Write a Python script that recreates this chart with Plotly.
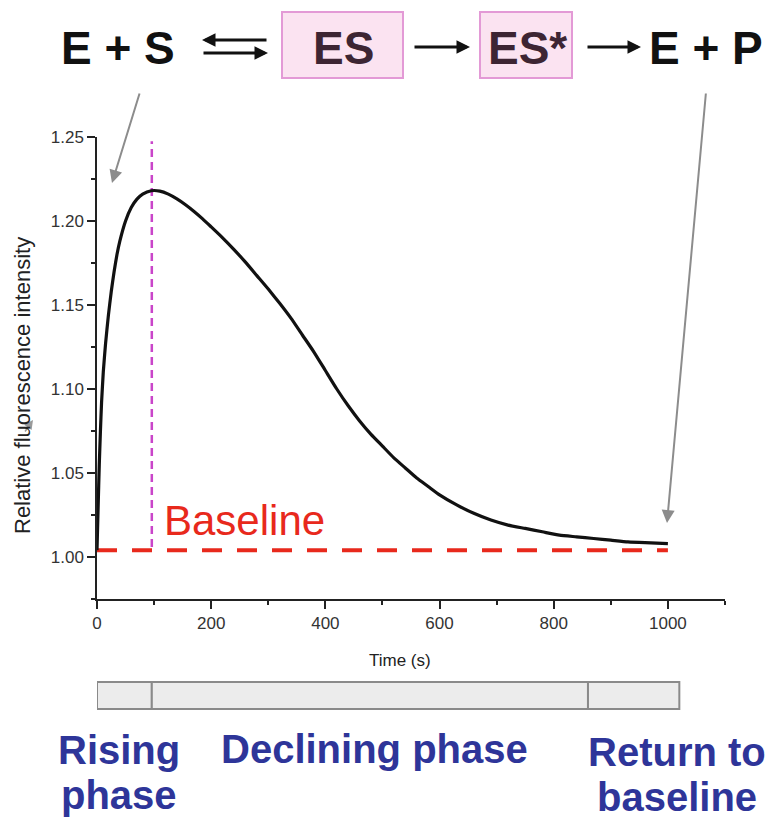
import plotly.graph_objects as go

# ---------------- data ----------------
time_s = [0, 2, 4, 6, 8, 11, 15, 20, 25, 30, 35, 40, 50, 60, 70, 80, 95, 110,
          125, 140, 155, 170, 185, 200, 220, 240, 260, 280, 300, 320, 340, 360,
          380, 400, 420, 440, 460, 480, 500, 520, 540, 560, 580, 600, 630, 660,
          690, 720, 750, 780, 810, 840, 870, 900, 930, 960, 1000]
intensity = [1.004, 1.030, 1.055, 1.075, 1.092, 1.110, 1.127, 1.144, 1.158, 1.170,
             1.180, 1.188, 1.200, 1.208, 1.213, 1.216, 1.218, 1.2178, 1.2160, 1.2132,
             1.2097, 1.2057, 1.2013, 1.1965, 1.1900, 1.1830, 1.1755, 1.1675, 1.1595,
             1.1510, 1.1420, 1.1320, 1.1220, 1.1110, 1.1000, 1.0900, 1.0810, 1.0730,
             1.0660, 1.0590, 1.0530, 1.0470, 1.0420, 1.0370, 1.0310, 1.0260, 1.0220,
             1.0190, 1.0170, 1.0150, 1.0130, 1.0120, 1.0110, 1.0100, 1.0090, 1.0085,
             1.0080]

baseline_t = [0, 1000]
baseline_level = [1.004, 1.004]
peak_time = [96, 96]
peak_line = [1.006, 1.2475]

phase_bounds = [0, 96, 860, 1020]

x_ticks = [0, 200, 400, 600, 800, 1000]
y_ticks = [1.00, 1.05, 1.10, 1.15, 1.20, 1.25]

# ---------------- layout helpers (pixel -> paper) ----------------
L, R, T, B = 97, 725, 137, 599
W, H = 772, 820


def px(x):
    return (x - L) / (R - L)


def py(y):
    return (B - y) / (B - T)


fig = go.Figure()

fig.add_trace(go.Scatter(x=baseline_t, y=baseline_level, mode="lines",
                         line=dict(color="#e8291c", width=4, dash="20px,15px"),
                         hoverinfo="skip", showlegend=False))
fig.add_trace(go.Scatter(x=peak_time, y=peak_line, mode="lines",
                         line=dict(color="#c945c9", width=2.5, dash="8px,5px"),
                         hoverinfo="skip", showlegend=False))
fig.add_trace(go.Scatter(x=time_s, y=intensity, mode="lines",
                         line=dict(color="#111111", width=3.2, shape="spline", smoothing=0.5),
                         showlegend=False))

shapes = []
# phase bar
for i in range(len(phase_bounds) - 1):
    shapes.append(dict(type="rect", xref="x", yref="paper",
                       x0=phase_bounds[i], x1=phase_bounds[i + 1],
                       y0=py(709), y1=py(682),
                       fillcolor="#ececec", line=dict(color="#8a8a8a", width=2)))
# pink boxes
for (x0, x1) in [(282, 403), (480, 572)]:
    shapes.append(dict(type="rect", xref="paper", yref="paper",
                       x0=px(x0), x1=px(x1), y0=py(78), y1=py(12),
                       fillcolor="#fbe3f1", line=dict(color="#e39ad6", width=2)))

ann = []
scheme_font = dict(family="Liberation Sans, Arial", size=46, color="#111111")
for text, cx, col in [("E + S", 118, "#111111"), ("ES", 343, "#3d2533"),
                      ("ES*", 527, "#3d2533"), ("E + P", 706, "#111111")]:
    f = dict(scheme_font)
    f["color"] = col
    ann.append(dict(text="<b>%s</b>" % text, x=px(cx), y=py(48), xref="paper", yref="paper",
                    showarrow=False, xanchor="center", yanchor="middle", font=f))


def arrow(tail, head, color, width, size):
    return dict(text="", x=px(head[0]), y=py(head[1]), xref="paper", yref="paper",
                ax=tail[0] - head[0], ay=tail[1] - head[1], showarrow=True,
                arrowhead=2, arrowsize=size, arrowwidth=width, arrowcolor=color,
                standoff=0, startstandoff=0)


ann += [
    arrow((268, 40), (202, 40), "#111111", 3, 0.9),
    arrow((202, 53), (268, 53), "#111111", 3, 0.9),
    arrow((413, 47), (470, 47), "#111111", 3, 0.9),
    arrow((586, 47), (641, 47), "#111111", 3, 0.9),
    arrow((140, 92), (112, 183), "#8c8c8c", 2, 1.3),
    arrow((706, 92), (667, 523), "#8c8c8c", 2, 1.3),
    arrow((24, 433), (33, 420), "#9a9a9a", 1.5, 1.2),
]

# Baseline label
ann.append(dict(text="Baseline", x=px(162), y=py(520), xref="paper", yref="paper",
                showarrow=False, xanchor="left", yanchor="middle",
                font=dict(family="Liberation Sans, Arial", size=42, color="#e8291c")))

# axis titles
ann.append(dict(text="Time (s)", x=px(400), y=py(660), xref="paper", yref="paper",
                showarrow=False, xanchor="center", yanchor="middle",
                font=dict(family="Liberation Sans, Arial", size=17, color="#222222")))
ann.append(dict(text="Relative fluorescence intensity", x=px(22), y=py(386),
                xref="paper", yref="paper", textangle=-90,
                showarrow=False, xanchor="center", yanchor="middle",
                font=dict(family="Liberation Sans, Arial", size=22, color="#222222")))

# phase labels
blue = "#2e3599"
pf = dict(family="Liberation Sans, Arial", size=40, color=blue)
for text, cx, cy in [("Rising", 119, 750), ("phase", 119, 795),
                     ("Declining phase", 374, 749),
                     ("Return to", 677, 752), ("baseline", 677, 797)]:
    ann.append(dict(text="<b>%s</b>" % text, x=px(cx), y=py(cy), xref="paper", yref="paper",
                    showarrow=False, xanchor="center", yanchor="middle", font=pf))

axis_common = dict(showline=True, linecolor="#222222", linewidth=1.5,
                   ticks="outside", ticklen=8, tickwidth=1.5, tickcolor="#222222",
                   showgrid=False, zeroline=False,
                   tickfont=dict(family="Liberation Sans, Arial", size=17, color="#333333"))

fig.update_layout(
    width=W, height=H,
    margin=dict(l=L, r=W - R, t=T, b=H - B, pad=0),
    paper_bgcolor="white", plot_bgcolor="white",
    xaxis=dict(range=[0, 1100], tickvals=x_ticks,
               minor=dict(ticks="outside", ticklen=4, tickwidth=1.5, tickcolor="#222222",
                          dtick=100, tick0=0),
               **axis_common),
    yaxis=dict(range=[0.975, 1.25], tickvals=y_ticks, tickformat=".2f",
               minor=dict(ticks="outside", ticklen=4, tickwidth=1.5, tickcolor="#222222",
                          dtick=0.025, tick0=0.975),
               **axis_common),
    shapes=shapes,
    annotations=ann,
)

fig.write_html("out.html")
